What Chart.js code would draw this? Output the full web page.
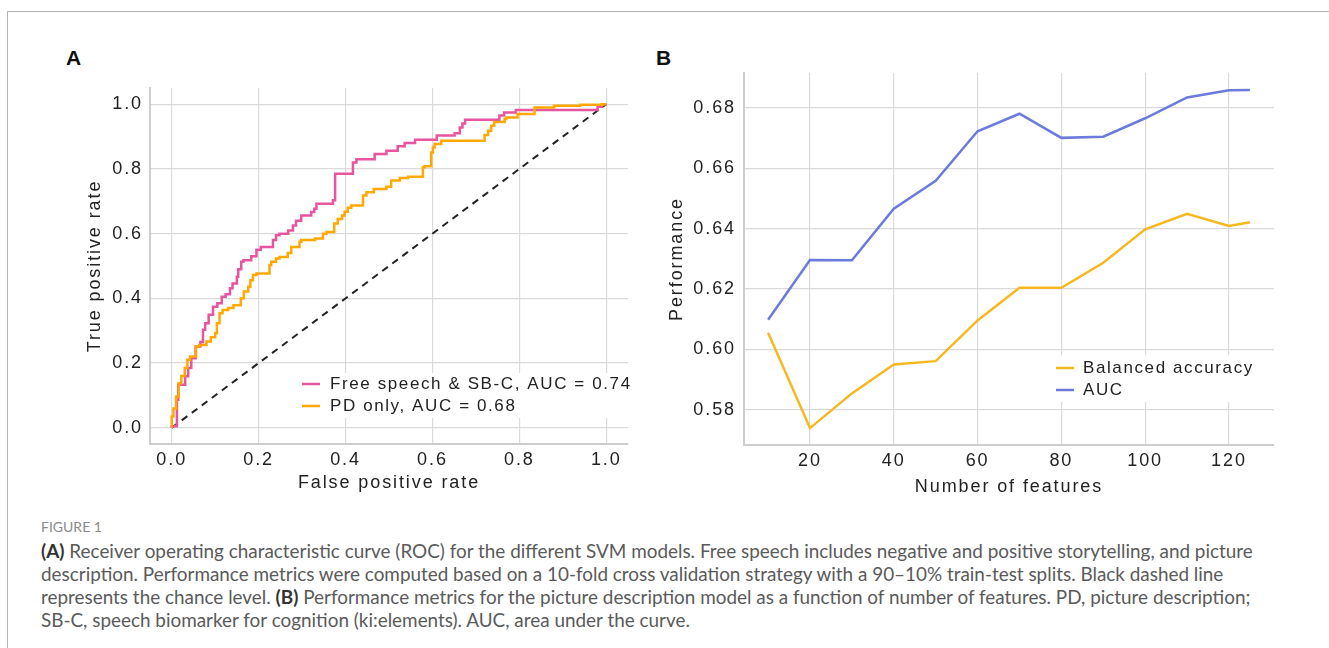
<!DOCTYPE html>
<html>
<head>
<meta charset="utf-8">
<script src="https://cdn.jsdelivr.net/npm/chart.js@4.4.1/dist/chart.umd.min.js"></script>
<style>
  body { margin: 0; background: #fff; width: 1329px; height: 648px; overflow: hidden; position: relative; font-family: Lato, sans-serif; }
  .frame { position: absolute; left: 7px; top: 11px; width: 1400px; height: 700px; border-top: 1px solid #b5b5b5; border-left: 1px solid #b5b5b5; }
  .panel { position: absolute; font: bold 21px "Liberation Sans", Arial, sans-serif; color: #111; }
  canvas { position: absolute; top: 0; }
  .cap { position: absolute; left: 41px; white-space: nowrap; color: #5a5a5a; font-size: 18.9px; line-height: 22px; }
  .fig { font-size: 14px; color: #8a8a8a; }
  .cap b { color: #333; }
</style>
</head>
<body>
<div class="frame"></div>
<div class="panel" style="left:66px; top:46px">A</div>
<div class="panel" style="left:656px; top:46px">B</div>
<canvas id="roc" width="660" height="498" style="left:0"></canvas>
<canvas id="perf" width="689" height="502" style="left:640px"></canvas>

<div class="cap fig" style="top:516px">FIGURE 1</div>
<div class="cap" style="top:540px"><b>(A)</b> Receiver operating characteristic curve (ROC) for the different SVM models. Free speech includes negative and positive storytelling, and picture</div>
<div class="cap" style="top:563px">description. Performance metrics were computed based on a 10-fold cross validation strategy with a 90–10% train-test splits. Black dashed line</div>
<div class="cap" style="top:586px">represents the chance level. <b>(B)</b> Performance metrics for the picture description model as a function of number of features. PD, picture description;</div>
<div class="cap" style="top:609px">SB-C, speech biomarker for cognition (ki:elements). AUC, area under the curve.</div>

<script>
// panel A: ROC points (false positive rate, true positive rate)
const fsFpr = [0, 0.012, 0.015, 0.031, 0.038, 0.045, 0.055, 0.066, 0.072, 0.077, 0.085, 0.095, 0.105, 0.115, 0.124, 0.134, 0.140, 0.150, 0.153, 0.160, 0.165, 0.183, 0.195, 0.205, 0.233, 0.240, 0.248, 0.268, 0.279, 0.286, 0.298, 0.321, 0.328, 0.333, 0.371, 0.376, 0.417, 0.425, 0.467, 0.494, 0.520, 0.536, 0.560, 0.610, 0.651, 0.663, 0.669, 0.675, 0.754, 0.765, 0.792, 0.980, 0.990, 1.0];
const fsTpr = [0, 0.005, 0.087, 0.133, 0.159, 0.185, 0.215, 0.251, 0.265, 0.303, 0.323, 0.349, 0.374, 0.385, 0.405, 0.413, 0.431, 0.446, 0.467, 0.490, 0.513, 0.518, 0.530, 0.550, 0.559, 0.580, 0.595, 0.600, 0.610, 0.625, 0.640, 0.656, 0.667, 0.677, 0.692, 0.703, 0.785, 0.820, 0.830, 0.846, 0.856, 0.870, 0.880, 0.890, 0.903, 0.910, 0.928, 0.940, 0.952, 0.965, 0.974, 0.982, 0.992, 1.0];

const pdFpr = [0, 0.004, 0.010, 0.016, 0.022, 0.030, 0.036, 0.042, 0.056, 0.063, 0.080, 0.090, 0.100, 0.104, 0.110, 0.117, 0.130, 0.142, 0.159, 0.166, 0.176, 0.181, 0.187, 0.195, 0.225, 0.229, 0.240, 0.248, 0.267, 0.275, 0.294, 0.298, 0.330, 0.348, 0.356, 0.374, 0.382, 0.392, 0.398, 0.405, 0.413, 0.440, 0.448, 0.465, 0.494, 0.505, 0.525, 0.544, 0.578, 0.582, 0.597, 0.601, 0.605, 0.620, 0.720, 0.728, 0.735, 0.742, 0.766, 0.770, 0.796, 0.835, 0.880, 0.940, 0.990, 1.0];
const pdTpr = [0, 0.035, 0.060, 0.097, 0.138, 0.160, 0.185, 0.210, 0.220, 0.251, 0.256, 0.267, 0.280, 0.292, 0.323, 0.354, 0.364, 0.370, 0.379, 0.400, 0.421, 0.436, 0.456, 0.472, 0.477, 0.503, 0.513, 0.523, 0.528, 0.540, 0.559, 0.575, 0.580, 0.585, 0.600, 0.605, 0.631, 0.645, 0.656, 0.668, 0.680, 0.687, 0.718, 0.728, 0.738, 0.745, 0.764, 0.772, 0.776, 0.805, 0.808, 0.851, 0.866, 0.877, 0.887, 0.905, 0.918, 0.933, 0.945, 0.954, 0.959, 0.970, 0.990, 0.995, 0.998, 1.0];

const chanceFpr = [0, 1];
const chanceTpr = [0, 1];
const rocTicks = [0, 0.2, 0.4, 0.6, 0.8, 1.0];

// panel B: performance vs number of features
const nFeatures = [10, 20, 30, 40, 50, 60, 70, 80, 90, 100, 110, 120, 125];
const balancedAcc = [0.6055, 0.5739, 0.5854, 0.5950, 0.5961, 0.6096, 0.6204, 0.6204, 0.6287, 0.6398, 0.6449, 0.6409, 0.6421];
const aucVals = [0.6098, 0.6296, 0.6295, 0.6466, 0.6559, 0.6723, 0.6781, 0.6701, 0.6705, 0.6766, 0.6835, 0.6859, 0.6860];
const featureTicks = [20, 40, 60, 80, 100, 120];
const perfTicks = [0.58, 0.60, 0.62, 0.64, 0.66, 0.68];

const pts = (xs, ys) => xs.map((x, i) => ({ x: x, y: ys[i] }));

Chart.defaults.font.family = '"Liberation Sans", Arial, sans-serif';
Chart.defaults.font.size = 18;
Chart.defaults.color = '#222';

// wide-tracked text like the original figure
const spacing = {
  id: 'spacing',
  beforeDraw(chart) { chart.ctx.letterSpacing = '1.9px'; }
};

// legend drawn inside the plot on a white box
const boxLegend = {
  id: 'boxLegend',
  afterDraw(chart, args, o) {
    const ctx = chart.ctx;
    const items = chart.data.datasets.filter(d => d.inLegend);
    ctx.save();
    ctx.fillStyle = '#fff';
    ctx.fillRect(o.left, o.top, o.width, o.height);
    ctx.font = '17px "Liberation Sans", Arial, sans-serif';
    ctx.letterSpacing = '1.6px';
    ctx.textBaseline = 'middle';
    items.forEach((d, i) => {
      const y = o.top + o.first + i * o.step;
      ctx.strokeStyle = d.borderColor;
      ctx.lineWidth = 2.5;
      ctx.beginPath();
      ctx.moveTo(o.lineX, y);
      ctx.lineTo(o.lineX + 18, y);
      ctx.stroke();
      ctx.fillStyle = '#222';
      ctx.fillText(d.label, o.textX, y);
    });
    ctx.restore();
  }
};

function axis(min, max, tickVals, digits, title, size, pad) {
  return {
    type: 'linear',
    min: min,
    max: max,
    afterBuildTicks: s => { s.ticks = tickVals.map(v => ({ value: v })); },
    afterFit: s => { if (s.isHorizontal()) s.height = size; else s.width = size; },
    ticks: { callback: v => Number(v).toFixed(digits), padding: pad, maxRotation: 0, autoSkip: false },
    grid: { color: '#dadada', lineWidth: 1.2, drawTicks: false },
    border: { display: true, color: '#cdcdcd', width: 2 },
    title: { display: true, text: title, padding: { top: 4, bottom: 4 } }
  };
}

new Chart(document.getElementById('roc'), {
  type: 'scatter',
  data: {
    datasets: [
      { label: 'Free speech & SB-C, AUC = 0.74', data: pts(fsFpr, fsTpr), showLine: true, stepped: 'after',
        borderColor: '#e8559f', borderWidth: 2.5, pointRadius: 0, order: 2, inLegend: true },
      { label: 'PD only, AUC = 0.68', data: pts(pdFpr, pdTpr), showLine: true, stepped: 'after',
        borderColor: '#ffa800', borderWidth: 2.5, pointRadius: 0, order: 1, inLegend: true },
      { label: 'chance', data: pts(chanceFpr, chanceTpr), showLine: true,
        borderColor: '#222', borderWidth: 2, borderDash: [7, 5.5], pointRadius: 0, order: 3 }
    ]
  },
  options: {
    responsive: false,
    animation: false,
    events: [],
    layout: { padding: { top: 88, left: 80, right: 32, bottom: 0 } },
    scales: {
      x: axis(-0.05, 1.05, rocTicks, 1, 'False positive rate', 54, 5),
      y: axis(-0.05, 1.05, rocTicks, 1, 'True positive rate', 70, 7)
    },
    plugins: {
      legend: { display: false },
      tooltip: { enabled: false },
      boxLegend: { left: 296, top: 373, width: 336, height: 45, first: 11, step: 22, lineX: 302, textX: 330 }
    }
  },
  plugins: [spacing, boxLegend]
});

new Chart(document.getElementById('perf'), {
  type: 'line',
  data: {
    datasets: [
      { label: 'Balanced accuracy', data: pts(nFeatures, balancedAcc), borderColor: '#f6b81f',
        borderWidth: 2.5, pointRadius: 0, tension: 0, inLegend: true },
      { label: 'AUC', data: pts(nFeatures, aucVals), borderColor: '#6b7adb',
        borderWidth: 2.5, pointRadius: 0, tension: 0, inLegend: true }
    ]
  },
  options: {
    responsive: false,
    animation: false,
    events: [],
    layout: { padding: { top: 73, left: 22, right: 55, bottom: 0 } },
    scales: {
      x: axis(4.25, 130.75, featureTicks, 0, 'Number of features', 57, 5),
      y: axis(0.5683, 0.6916, perfTicks, 2, 'Performance', 82, 8)
    },
    plugins: {
      legend: { display: false },
      tooltip: { enabled: false },
      boxLegend: { left: 405, top: 355, width: 222, height: 47, first: 13, step: 22, lineX: 416, textX: 443 }
    }
  },
  plugins: [spacing, boxLegend]
});
</script>
</body>
</html>
